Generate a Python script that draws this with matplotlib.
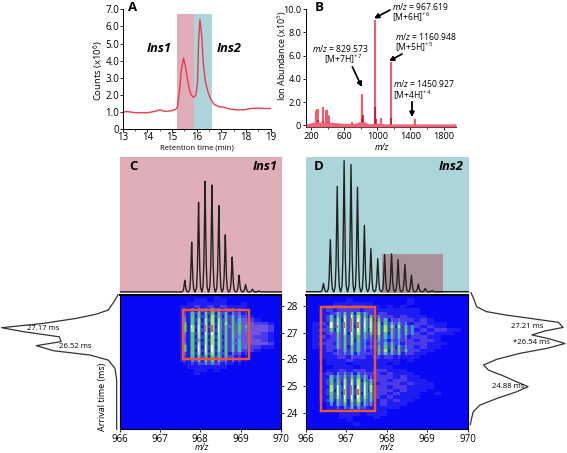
import numpy as np
import matplotlib
matplotlib.use('Agg')
import matplotlib.pyplot as plt
from matplotlib.colors import ListedColormap

plt.rcParams['font.family'] = ['Open Sans', 'DejaVu Sans']
plt.rcParams['mathtext.fontset'] = 'custom'
plt.rcParams['mathtext.rm'] = 'Open Sans'
plt.rcParams['mathtext.it'] = 'Open Sans:italic'
plt.rcParams['mathtext.bf'] = 'Open Sans:bold'

W, H = 567, 453

# Panel A: total ion chromatogram
time_min = [13, 13.1, 13.3, 13.5, 13.8, 14, 14.3, 14.5, 14.7, 15, 15.15, 15.22, 15.3, 15.38, 15.47,
            15.55, 15.65, 15.72, 15.8, 15.88, 15.97, 16.03, 16.08, 16.13, 16.2, 16.27, 16.35, 16.45,
            16.55, 16.7, 16.9, 17.1, 17.3, 17.6, 17.9, 18.2, 18.5, 18.8, 19]
counts = [0.95, 1.02, 1.0, 0.95, 0.95, 0.95, 1.03, 1.12, 1.03, 1.07, 1.15, 1.3, 2.2, 3.5, 4.15,
          3.6, 2.7, 2.2, 1.95, 1.85, 2.0, 2.7, 5.2, 6.4, 5.5, 3.8, 2.8, 2.2,
          1.8, 1.45, 1.3, 1.28, 1.18, 1.12, 1.12, 1.2, 1.22, 1.2, 1.2]

# Panel B: mass spectrum sticks
ms_light_mz = [255, 275, 290, 345, 385, 395, 410, 420, 690, 810, 820, 1040, 1050, 967, 1160, 1450]
ms_light_y = [1.25, 1.4, 1.4, 1.55, 1.3, 1.35, 0.85, 0.8, 0.25, 2.7, 2.3, 0.65, 0.6, 9.1, 5.45, 0.5]
ms_dark_mz = [280, 350, 400, 690, 815, 830, 975, 985, 1165, 1455]
ms_dark_y = [0.45, 0.4, 0.3, 0.15, 0.5, 0.9, 1.55, 0.5, 0.65, 0.1]
ms_base_mz = [140, 260, 450, 700, 780, 850, 900, 1000, 1100, 1200, 1500, 1950]
ms_base_y = [0.12, 0.3, 0.25, 0.12, 0.3, 0.3, 0.12, 0.2, 0.12, 0.12, 0.12, 0.12]

# Panels C, D: isotope envelopes (percent of the tallest peak)
ins1_peak_mz = [967.6, 967.77, 967.94, 968.1, 968.27, 968.44, 968.6, 968.77, 968.94, 969.1, 969.27, 969.43]
ins1_peak_h = [10.5, 45, 81, 100, 96.7, 78, 51.6, 31.5, 15, 6.6, 2.4, 0.9]
ins2_peak_mz = [966.43, 966.6, 966.77, 966.94, 967.11, 967.27, 967.44, 967.6, 967.77, 967.94,
                968.11, 968.27, 968.44, 968.6, 968.77, 968.94, 969.11]
ins2_peak_h = [6.3, 39.7, 80.3, 100, 97, 79.7, 50.6, 32.9, 25.3, 28.4, 28.9, 24.6, 20.8, 12.7, 5.8, 2.5, 0.8]
peak_dx = [-0.08, -0.05, -0.03, -0.015, 0, 0.015, 0.03, 0.05, 0.08]
peak_frac = [0, 0.05, 0.25, 0.6, 1, 0.6, 0.25, 0.05, 0]

# Arrival time profiles
ins1_at_ms = [28.42, 28.21, 27.84, 27.69, 27.53, 27.34, 27.18, 27.03, 26.84, 26.66, 26.51, 26.32,
              26.16, 25.97, 25.66, 25.23, 23.39]
ins1_at_int = [-1, 1.7, 7.5, 17.6, 35, 64, 100, 81, 50, 48.5, 70, 55, 23.4, 7.5, 1.7, 0.3, 0.3]
ins2_at_ms = [28.49, 28.21, 27.96, 27.78, 27.65, 27.53, 27.38, 27.19, 27.06, 26.91, 26.76, 26.59, 26.41,
              26.22, 26.0, 25.79, 25.6, 25.38, 25.16, 24.98, 24.79, 24.54, 24.29, 24.04, 23.8, 23.57]
ins2_at_int = [0.7, 4.2, 6.7, 17, 38, 63, 93, 98, 79, 65, 84, 100, 81,
               52, 28, 14, 19, 35, 49, 61, 49, 28, 10, 3, 1.4, 0]

# Heatmap levels, one char per cell. Haze rows run from the top row down, 1/6 m/z per column
ins1_haze = [
    "000000000000001000000000", "000000000001101100000000", "000000000011111100100000",
    "000000000112121211100000", "000000000111212121100000", "000000000112121212100000",
    "000000000111212122210000", "000000000112121222321000", "000000000111212223332210",
    "000000000112121233333320", "000000000111212223333320", "000000000112121223333210",
    "000000000111212123332210", "000000000112121222333210", "000000000111212123333320",
    "000000000112121222322110", "000000000111212122221000", "000000000112121212100000",
    "000000000111212121000000", "000000000112121211000000", "000000000011222110000000",
    "000000000011111100000000", "000000000001101000000000", "000000000001000000000000"]
ins2_haze = [
    "000000000000000000000000", "000000100000000100000000", "000011111100000100000000",
    "000122122110101000000000", "001212221211111110000000", "001122212212111110000000",
    "001212222122212111000000", "001221222212122212100000", "012122222221222122111000",
    "011222212222212221211000", "012212222122222212122110", "011222122222122221211100",
    "012122222212222122110000", "011222212222122212210000", "012212222122221222111000",
    "011222122222212212110000", "001212222122122221100000", "001122212212221211000000",
    "001112122121211110000000", "000111211111110100000000", "000111011111010000000000",
    "000011101111100000000000", "000112122122111000000000", "001212212221211100000000",
    "001122222122212110000000", "001212221222122111000000", "001221222212221211100000",
    "001122212222122111100000", "001212222122212111000000", "001221221222121110010000",
    "001122212221211110000000", "001212122212121100000000", "000112121212111000000000",
    "000111212111110000000000", "000011121111000000000000", "000001110111000000000000",
    "000001100010000000000000", "000000100000000000000000", "000000010000000000000000"]

# Stripe levels: one row per arrival time, one char per isotope
ins1_stripe_mz = [967.61, 967.79, 967.95, 968.13, 968.29, 968.47, 968.63, 968.79, 968.96, 969.13]
ins1_stripe_ms = [27.875, 27.75, 27.625, 27.5, 27.375, 27.25, 27.125, 27.0, 26.875, 26.75, 26.625,
                  26.5, 26.375, 26.25, 26.125, 26.0, 25.875]
ins1_stripes = ["2344543321", "2566665432", "3666766542", "4677776652", "5677777653", "6889986665",
                "6789986664", "4678876652", "3677776642", "3667776552", "4677776553", "6688876654",
                "5688876652", "3677766432", "2566665321", "2456654321", "1234432110"]
ins2_stripe_mz = [966.62, 966.78, 966.95, 967.12, 967.28, 967.45, 967.61, 967.78, 967.95, 968.12,
                  968.29, 968.45, 968.63]
ins2_stripe_ms = [27.875, 27.75, 27.625, 27.5, 27.375, 27.25, 27.125, 27.0, 26.875, 26.75, 26.625,
                  26.5, 26.375, 26.25, 26.125]
ins2_stripes = ["1222222111000", "2566652211100", "5678766421110", "6789877653320", "8899988765541",
                "8999988777754", "6789877776664", "3678766766554", "2667654655542", "2567643544431",
                "2567543455431", "2566543566642", "2356532676652", "1345422555531", "1223211222211"]
ins2_low_ms = [25.5, 25.375, 25.25, 25.125, 25.0, 24.875, 24.75, 24.625, 24.5, 24.375, 24.25, 24.125]
ins2_low = ["1444431", "5566653", "6677765", "6678776", "7889887", "7899987",
            "6899986", "6788876", "5677765", "4566654", "1345431", "1112111"]

mz_ticks = [966, 967, 968, 969, 970]
at_ticks = [24, 25, 26, 27, 28]
AT_MIN, AT_MAX = 23.4, 28.4
heat_cmap = ListedColormap(['#0808f5', '#1e1cf0', '#4a3ae8', '#6d55e2', '#3a90d0',
                            '#30c8a0', '#3ee04a', '#a8f040', '#f8f8b0', '#f05a28'])
PINK, TEAL = '#e0aeb9', '#acd5d9'
RED = '#ea3a50'


def px_axes(x0, y0, x1, y1):
    return fig.add_axes([x0 / W, 1 - y1 / H, (x1 - x0) / W, (y1 - y0) / H])


def px_text(x, y, s, **kw):
    kw.setdefault('va', 'center')
    kw.setdefault('fontsize', 6.2)
    fig.text(x / W, 1 - y / H, s, **kw)


def px_arrow(x0, y0, x1, y1):
    fig.add_artist(plt.annotate('', xy=(x1 / W, 1 - y1 / H), xytext=(x0 / W, 1 - y0 / H),
                                xycoords='figure fraction', textcoords='figure fraction',
                                arrowprops=dict(arrowstyle='-|>', color='black', lw=1.0,
                                                mutation_scale=7, shrinkA=0, shrinkB=0)))


def build_heat(haze, stripe_sets):
    # 36 cells per m/z, 8 per ms
    grid = np.zeros((40, 144))
    for r, row in enumerate(haze):
        for c, ch in enumerate(row):
            grid[39 - r, c * 6:c * 6 + 6] = int(ch)
    for mzs, times, rows in stripe_sets:
        for t, row in zip(times, rows):
            r = int((t - AT_MIN) * 8)
            for m, ch in zip(mzs, row):
                c = int((m - 966) * 36)
                level = int(ch)
                # brightest level only in one cell, the next cell stays green
                grid[r, c] = max(grid[r, c], level)
                grid[r, c + 1] = max(grid[r, c + 1], min(level, 7))
                if level >= 5:
                    side = 4 if level >= 7 else 3
                    grid[r, c - 1] = max(grid[r, c - 1], side)
                    grid[r, c + 2] = max(grid[r, c + 2], side)
    return grid


def draw_heat(ax, grid, box):
    mz_edges = np.linspace(966, 970, 145)
    at_edges = np.linspace(AT_MIN, AT_MAX, 41)
    ax.pcolormesh(mz_edges, at_edges, grid, cmap=heat_cmap, vmin=-0.5, vmax=9.5)
    ax.plot([box[0], box[1], box[1], box[0], box[0]], [box[2], box[2], box[3], box[3], box[2]],
            color='#f2552c', lw=1.7, solid_joinstyle='miter')
    ax.set_xlim(966, 970)
    ax.set_ylim(AT_MIN, AT_MAX)
    ax.set_xticks(mz_ticks)
    ax.tick_params(axis='x', labelsize=7, length=2.5, width=0.6, pad=1)
    for s in ax.spines.values():
        s.set_linewidth(0.8)
    ax.spines['top'].set_linewidth(1.4)


def draw_envelope(ax, mzs, heights, color):
    xs, ys = [966], [0]
    for m, h in zip(mzs, heights):
        xs += [m + d for d in peak_dx]
        ys += [h * f for f in peak_frac]
    xs.append(970)
    ys.append(0)
    ax.set_facecolor(color)
    ax.plot(xs, ys, color='#222222', lw=1.0, zorder=3)
    ax.set_xlim(966, 970)
    ax.set_xticks([])
    ax.set_yticks([])
    for s in ax.spines.values():
        s.set_visible(False)


fig = plt.figure(figsize=(W / 100, H / 100), dpi=100)

# A
ax_a = px_axes(122.7, 9.3, 270.7, 129)
ax_a.axvspan(15.2, 15.9, ymax=6.75 / 7, color=PINK, lw=0)
ax_a.axvspan(15.9, 16.6, ymax=6.75 / 7, color=TEAL, lw=0)
ax_a.plot(time_min, counts, color=RED, lw=1.0)
ax_a.set_xlim(13, 19)
ax_a.set_ylim(0, 7)
ax_a.set_xticks(range(13, 20))
ax_a.set_xticks(np.arange(13.5, 19, 1), minor=True)
ax_a.set_yticks(range(0, 8))
ax_a.set_yticklabels(['0', '1.0', '2.0', '3.0', '4.0', '5.0', '6.0', '7.0'])
ax_a.tick_params(labelsize=7, length=2, width=0.6, pad=0.5)
ax_a.tick_params(which='minor', length=1.5, width=0.5)
ax_a.spines[['top', 'right']].set_visible(False)
ax_a.spines[['left', 'bottom']].set_linewidth(0.7)

# B
ax_b = px_axes(306, 9.3, 456, 127)
ax_b.vlines(ms_light_mz, 0, ms_light_y, color='#ee5c72', lw=1.5)
ax_b.vlines(ms_dark_mz, 0, ms_dark_y, color='#c8102e', lw=1.2)
ax_b.fill_between(ms_base_mz, -0.15, ms_base_y, color='#ee6478', lw=0, clip_on=False, zorder=4)
ax_b.set_xlim(140, 1950)
ax_b.set_ylim(-0.15, 10)
ax_b.set_xticks([200, 600, 1000, 1400, 1800])
ax_b.set_xticks([400, 800, 1200, 1600], minor=True)
ax_b.set_yticks([0, 2, 4, 6, 8, 10])
ax_b.set_yticklabels(['0', '2.0', '4.0', '6.0', '8.0', '10.0'])
ax_b.tick_params(labelsize=6.6, length=2.5, width=0.6, pad=1)
ax_b.tick_params(which='minor', length=1.5, width=0.5)
ax_b.spines[['top', 'right']].set_visible(False)
ax_b.spines[['left', 'bottom']].set_linewidth(0.7)

# C, D envelopes
ax_c = px_axes(120, 157, 282, 293)
draw_envelope(ax_c, ins1_peak_mz, ins1_peak_h, PINK)
ax_c.set_ylim(-1, 122)
ax_d = px_axes(306, 157, 469, 293)
ax_d.axvspan(967.88, 969.38, ymin=0, ymax=0.29, color='#a8919b', lw=0, zorder=1)
draw_envelope(ax_d, ins2_peak_mz, ins2_peak_h, TEAL)
ax_d.set_xlim(966, 970.02)
ax_d.set_ylim(-1, 102.8)

# heatmaps
ax_ch = px_axes(119.5, 295, 281, 429)
draw_heat(ax_ch, build_heat(ins1_haze, [(ins1_stripe_mz, ins1_stripe_ms, ins1_stripes)]),
          (967.58, 969.2, 26.0, 27.84))
ax_ch.yaxis.tick_right()
ax_ch.set_yticks(at_ticks)
ax_ch.tick_params(axis='y', labelsize=7.2, length=2.5, width=0.6, pad=1.5)

ax_dh = px_axes(305.7, 295, 467.7, 429)
draw_heat(ax_dh, build_heat(ins2_haze, [(ins2_stripe_mz, ins2_stripe_ms, ins2_stripes),
                                        (ins2_stripe_mz[:7], ins2_low_ms, ins2_low)]),
          (966.37, 967.72, 24.08, 27.96))
ax_dh.set_yticks(at_ticks)
ax_dh.set_yticklabels([])
ax_dh.tick_params(axis='y', length=2.5, width=0.6)

# arrival time traces
ax_l = px_axes(1.7, 295, 117, 429)
ax_l.plot(ins1_at_int, ins1_at_ms, color='#333333', lw=0.9, clip_on=False)
ax_l.set_xlim(100, 0)
ax_l.set_ylim(AT_MIN, AT_MAX)
ax_l.axis('off')
ax_r = px_axes(470.3, 295, 565, 429)
ax_r.plot(ins2_at_int, ins2_at_ms, color='#333333', lw=0.9, clip_on=False)
ax_r.set_xlim(0, 100)
ax_r.set_ylim(AT_MIN, AT_MAX)
ax_r.axis('off')

# labels
panel = dict(fontsize=9.5, fontweight='bold', ha='center')
px_text(133, 7.5, 'A', **panel)
px_text(319, 7.5, 'B', **panel)
px_text(133, 167, 'C', **panel)
px_text(319, 167, 'D', **panel)

ins = dict(fontsize=9.2, fontweight='bold', style='italic')
px_text(147, 49, 'Ins1', **ins)
px_text(217, 49, 'Ins2', **ins)
px_text(278, 167, 'Ins1', ha='right', **ins)
px_text(464, 167, 'Ins2', ha='right', **ins)

px_text(98, 70.5, 'Counts (x10$^{6}$)', rotation=90, ha='center', fontsize=6.8)
px_text(282.5, 56, 'Ion Abundance (x10$^{5}$)', rotation=90, ha='center', fontsize=6.4)
px_text(197, 148, 'Retention time (min)', ha='center', fontsize=5.6)
px_text(381.7, 147.5, 'm/z', ha='center', fontsize=6.2, style='italic')
px_text(201.7, 448, 'm/z', ha='center', fontsize=6.2, style='italic')
px_text(387.3, 448, 'm/z', ha='center', fontsize=6.2, style='italic')
px_text(103, 397, 'Arrival time (ms)', rotation=90, ha='center', fontsize=6.5)

px_text(391.7, 6.7, '$\\mathit{m/z}$ = 967.619')
px_text(391.7, 17.8, '[M+6H]$^{+6}$')
px_text(395, 36, '$\\mathit{m/z}$ = 1160.948')
px_text(395, 47.5, '[M+5H]$^{+5}$')
px_text(312.3, 48.3, '$\\mathit{m/z}$ = 829.573')
px_text(324.3, 59.8, '[M+7H]$^{+7}$')
px_text(392.7, 83.7, '$\\mathit{m/z}$ = 1450.927')
px_text(392.7, 95.2, '[M+4H]$^{+4}$')
px_arrow(390, 10, 374.3, 18.3)
px_arrow(402, 54, 389.3, 61)
px_arrow(352.3, 66.7, 361.7, 86.7)
px_arrow(412, 101.7, 412, 116.7)

px_text(43, 328, '27.17 ms', ha='center', fontsize=5.6)
px_text(75, 346, '26.52 ms', ha='center', fontsize=5.6)
px_text(526.7, 326, '27.21 ms', ha='center', fontsize=5.6)
px_text(531.7, 342.3, '*26.54 ms', ha='center', fontsize=5.6)
px_text(507.7, 386, '24.88 ms', ha='center', fontsize=5.6)

fig.savefig('out.png', dpi=100)
